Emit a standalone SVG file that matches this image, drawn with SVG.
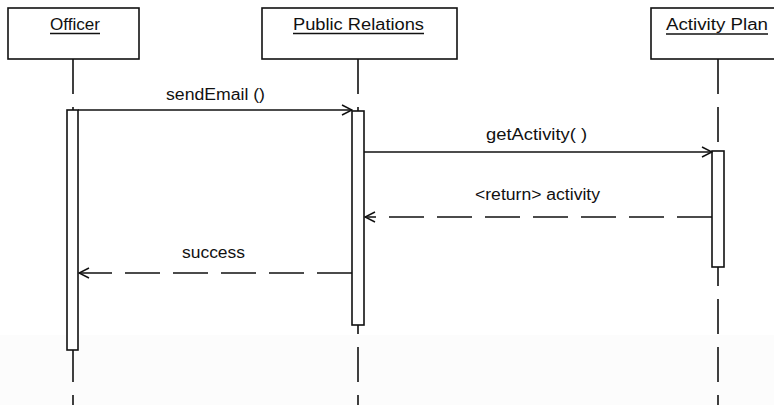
<svg xmlns="http://www.w3.org/2000/svg" width="774" height="405" viewBox="0 0 774 405">
  <style>
    .box { fill: #ffffff; stroke: #111111; stroke-width: 1.6; }
    .life { stroke: #111111; stroke-width: 1.6; fill: none; stroke-dasharray: 35 13; }
    .act { fill: #ffffff; stroke: #111111; stroke-width: 1.6; }
    .msg { stroke: #111111; stroke-width: 1.6; fill: none; }
    .ret { stroke: #111111; stroke-width: 1.6; fill: none; stroke-dasharray: 35 13; }
    .lbl { font-family: "Liberation Sans", Arial, sans-serif; font-size: 16px; fill: #111111; }
    .ul { stroke: #111111; stroke-width: 1.4; }
  </style>
  <defs>
    <marker id="open" markerWidth="12" markerHeight="12" refX="11" refY="6" orient="auto" markerUnits="userSpaceOnUse">
      <path d="M1,1 L11,6 L1,11" fill="none" stroke="#111111" stroke-width="1.5" stroke-dasharray="none"/>
    </marker>
  </defs>
  <rect x="0" y="0" width="774" height="405" fill="#ffffff"/>
  <rect x="0" y="335" width="774" height="70" fill="#fcfcfc"/>

  <g id="lifelines">
    <line class="life" x1="73" y1="59" x2="73" y2="405"/>
    <line class="life" x1="358" y1="59" x2="358" y2="405"/>
    <line class="life" x1="718" y1="59" x2="718" y2="405"/>
  </g>

  <g id="officer">
    <rect class="box" x="8" y="8" width="131" height="51"/>
    <text class="lbl" x="50" y="30" textLength="50" lengthAdjust="spacingAndGlyphs">Officer</text>
    <line class="ul" x1="50" y1="33.5" x2="100" y2="33.5"/>
    <rect class="act" x="67" y="110" width="11" height="240"/>
  </g>

  <g id="public-relations">
    <rect class="box" x="262" y="8" width="195" height="51"/>
    <text class="lbl" x="293" y="30" textLength="131" lengthAdjust="spacingAndGlyphs">Public  Relations</text>
    <line class="ul" x1="293" y1="33.5" x2="424" y2="33.5"/>
    <rect class="act" x="352" y="111" width="12" height="214"/>
  </g>

  <g id="activity-plan">
    <rect class="box" x="651" y="8" width="140" height="51"/>
    <text class="lbl" x="666" y="30" textLength="102" lengthAdjust="spacingAndGlyphs">Activity  Plan</text>
    <line class="ul" x1="666" y1="34" x2="768" y2="34"/>
    <rect class="act" x="712" y="151" width="12" height="116"/>
  </g>

  <g id="connectors">
    <line class="msg" x1="78" y1="110" x2="352" y2="110" marker-end="url(#open)"/>
    <line class="msg" x1="364" y1="152" x2="712" y2="152" marker-end="url(#open)"/>
    <line class="ret" x1="712" y1="217" x2="365" y2="217" marker-end="url(#open)"/>
    <line class="ret" x1="352" y1="273" x2="79" y2="273" marker-end="url(#open)"/>
    <text class="lbl" x="166" y="100" textLength="99" lengthAdjust="spacingAndGlyphs">sendEmail ()</text>
    <text class="lbl" x="486" y="140" textLength="101" lengthAdjust="spacingAndGlyphs">getActivity( )</text>
    <text class="lbl" x="475" y="200" textLength="125" lengthAdjust="spacingAndGlyphs">&lt;return&gt; activity</text>
    <text class="lbl" x="182" y="258" textLength="63" lengthAdjust="spacingAndGlyphs">success</text>
  </g>
</svg>
